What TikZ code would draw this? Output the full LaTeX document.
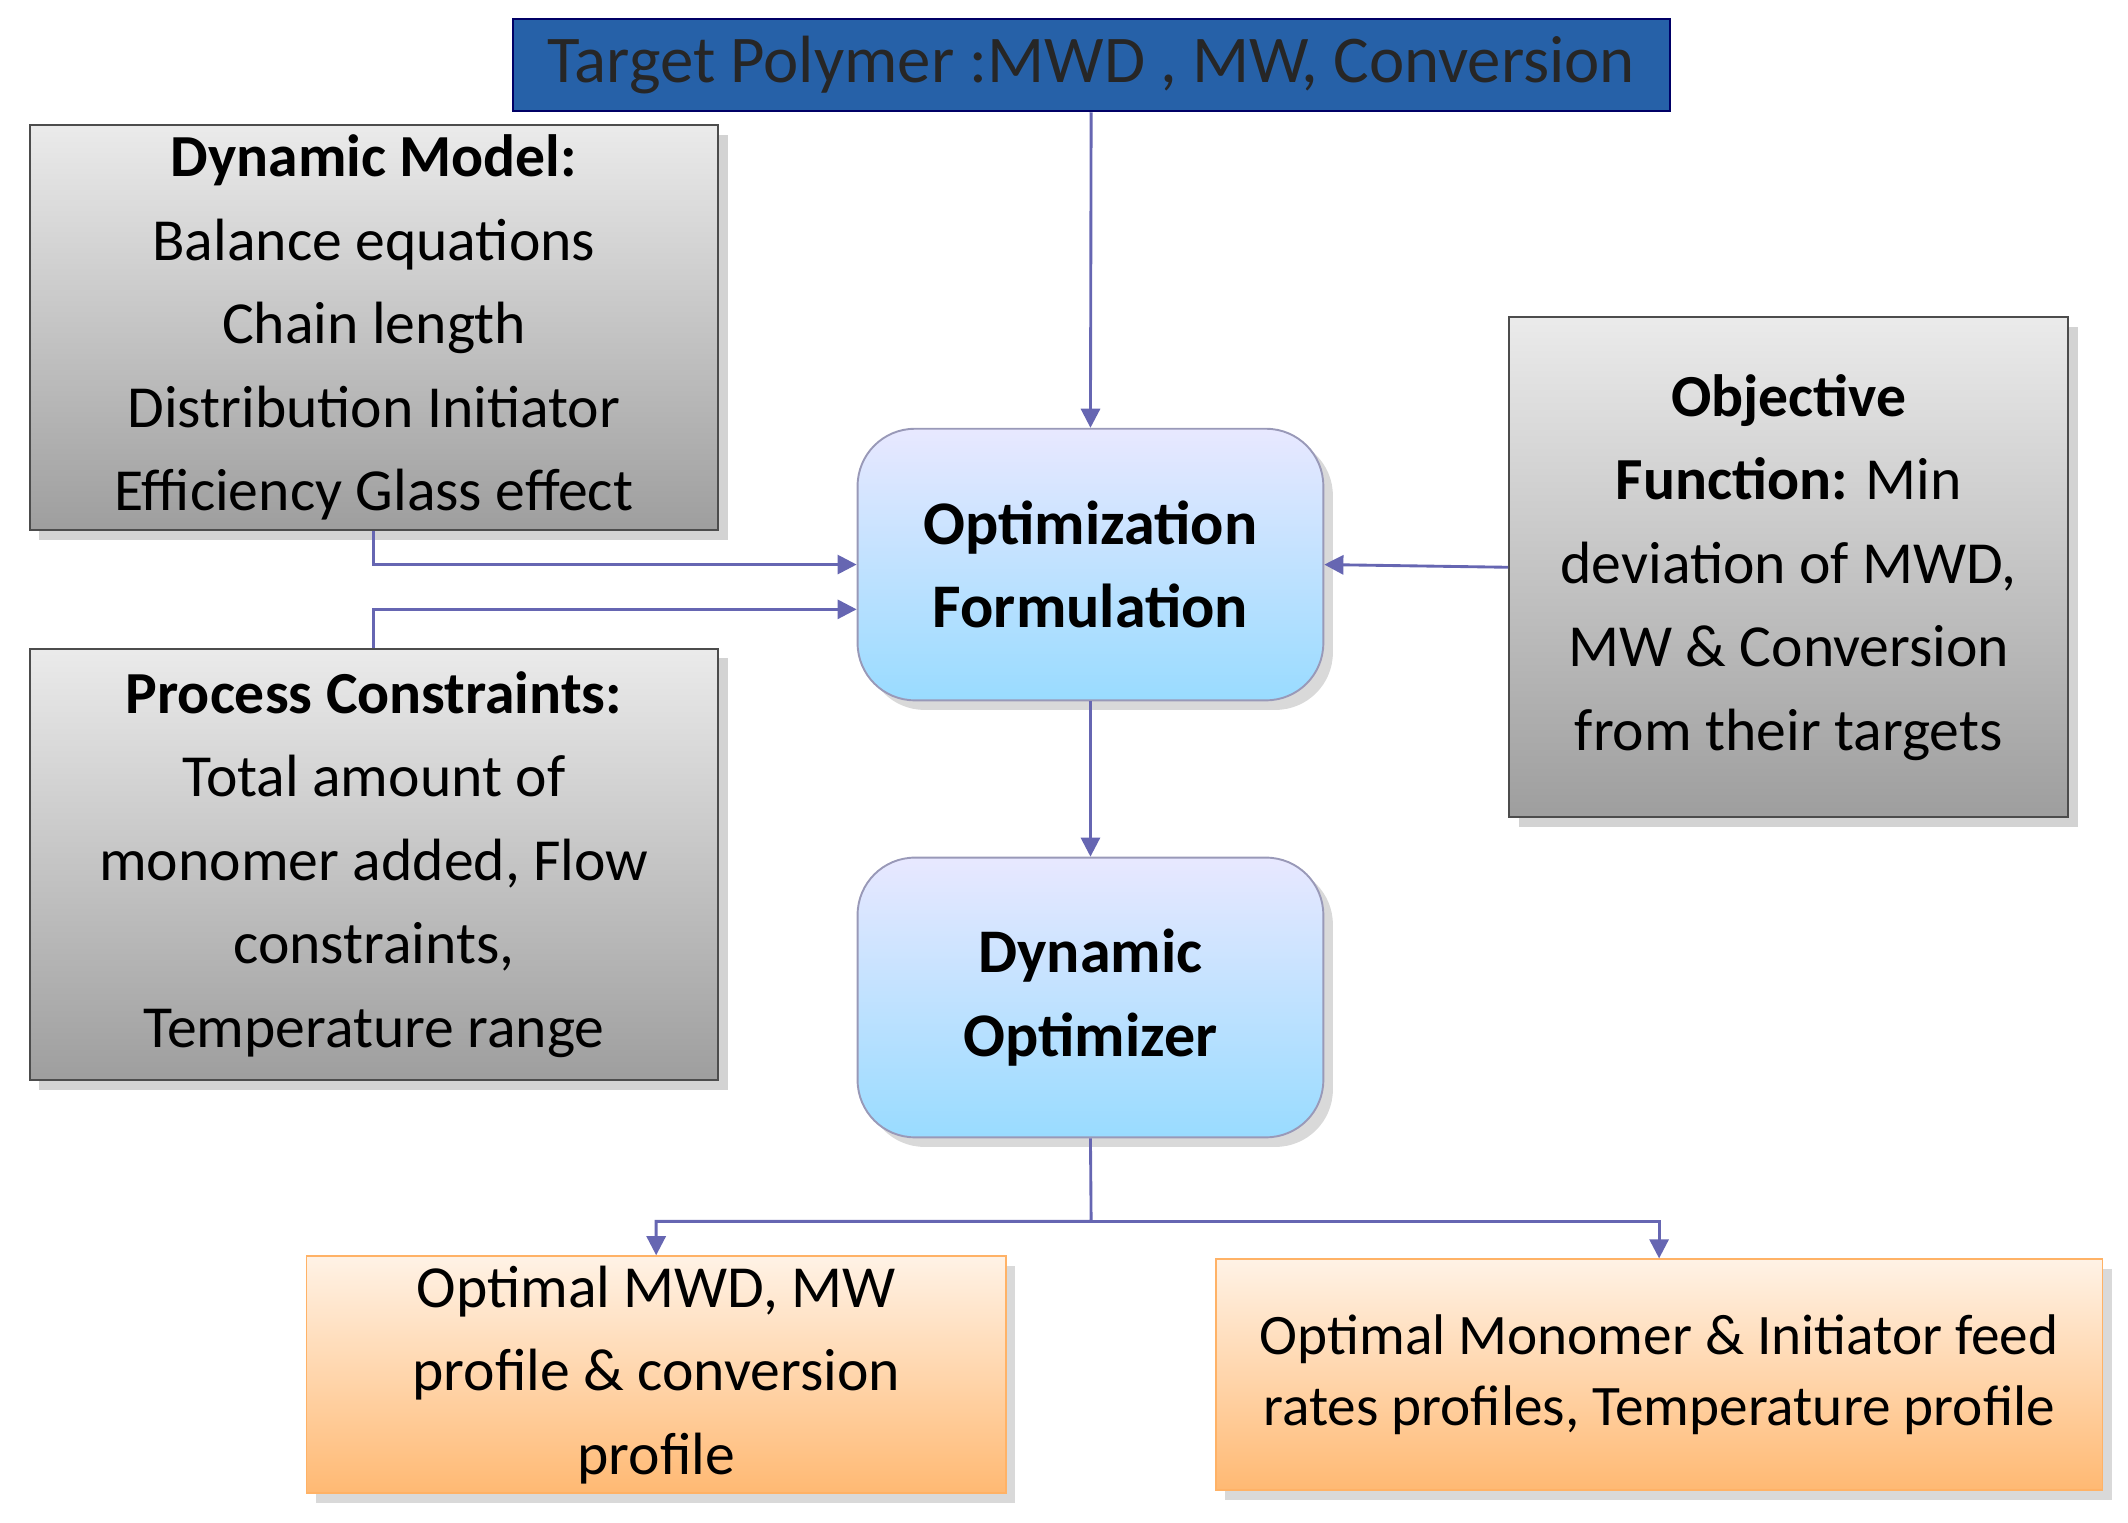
\documentclass[tikz,border=0pt]{standalone}
\usepackage{fontspec}
\setmainfont{Carlito}
\usetikzlibrary{shadows,arrows.meta}
\begin{document}
\begin{tikzpicture}[x=0.01cm,y=-0.01cm,
 every node/.style={font=\fontsize{12.5}{17.5}\selectfont, align=center, inner sep=2pt},
 gray/.style={draw=black!70, top color=black!8, bottom color=black!38, drop shadow={opacity=0.35,shadow xshift=2pt,shadow yshift=-2pt}},
 blue/.style={draw=blue!30!black!40, rounded corners=12pt, top color=white!70!blue!30, bottom color=blue!35!cyan!40, drop shadow={opacity=0.3,shadow xshift=2pt,shadow yshift=-2pt}},
 orange/.style={draw=orange!60, top color=orange!10, bottom color=orange!55, drop shadow={opacity=0.3,shadow xshift=2pt,shadow yshift=-2pt}},
 arr/.style={draw=blue!50!black!60, line width=0.6pt, -{Triangle[length=4pt,width=4pt]}}]
\useasboundingbox (0,0) rectangle (1568,1122);
\node[draw=blue!40!black, fill=blue!55!cyan!60!black!85, minimum width=852\pgflinewidth*0+8.52cm, minimum height=0.68cm, text=black!85, font=\fontsize{14}{17}\selectfont] (t) at (804,48) {Target Polymer :MWD , MW, Conversion};
\node[gray, minimum width=5.07cm, minimum height=2.87cm] (dm) at (275.5,241.5) {\textbf{Dynamic Model:}\\Balance equations\\Chain length\\Distribution Initiator\\Efficiency Glass effect};
\node[gray, minimum width=5.07cm, minimum height=3.18cm] (pc) at (275.5,637) {\textbf{Process Constraints:}\\Total amount of\\monomer added, Flow\\constraints,\\Temperature range};
\node[gray, minimum width=4.12cm, minimum height=3.68cm] (of) at (1318,418) {\textbf{Objective}\\\textbf{Function:} Min\\deviation of MWD,\\MW \& Conversion\\from their targets};
\node[blue, minimum width=3.43cm, minimum height=2.0cm, font=\fontsize{13}{17.5}\selectfont\bfseries] (f) at (803.5,416) {Optimization\\Formulation};
\node[blue, minimum width=3.43cm, minimum height=2.06cm, font=\fontsize{13}{17.5}\selectfont\bfseries] (d) at (803.5,735) {Dynamic\\Optimizer};
\node[orange, minimum width=5.15cm, minimum height=1.7cm] (o1) at (483.5,1013) {Optimal MWD, MW\\profile \& conversion\\profile};
\node[orange, minimum width=6.53cm, minimum height=1.7cm, font=\fontsize{12}{15}\selectfont] (o2) at (1222.5,1013) {Optimal Monomer \& Initiator feed\\rates profiles, Temperature profile};
\coordinate (j) at (804,900);
\draw[arr] (t.south) -- (f.north);
\draw[arr] (dm.south) |- (f.west|-0,416);
\draw[arr] (pc.north) |- (f.west|-0,449);
\draw[arr] (of.west) -- (f.east);
\draw[arr] (f.south) -- (d.north);
\draw[arr] (d.south) -- (j) -| (o1.north);
\draw[arr] (j) -| (o2.north);
\end{tikzpicture}
\end{document}
